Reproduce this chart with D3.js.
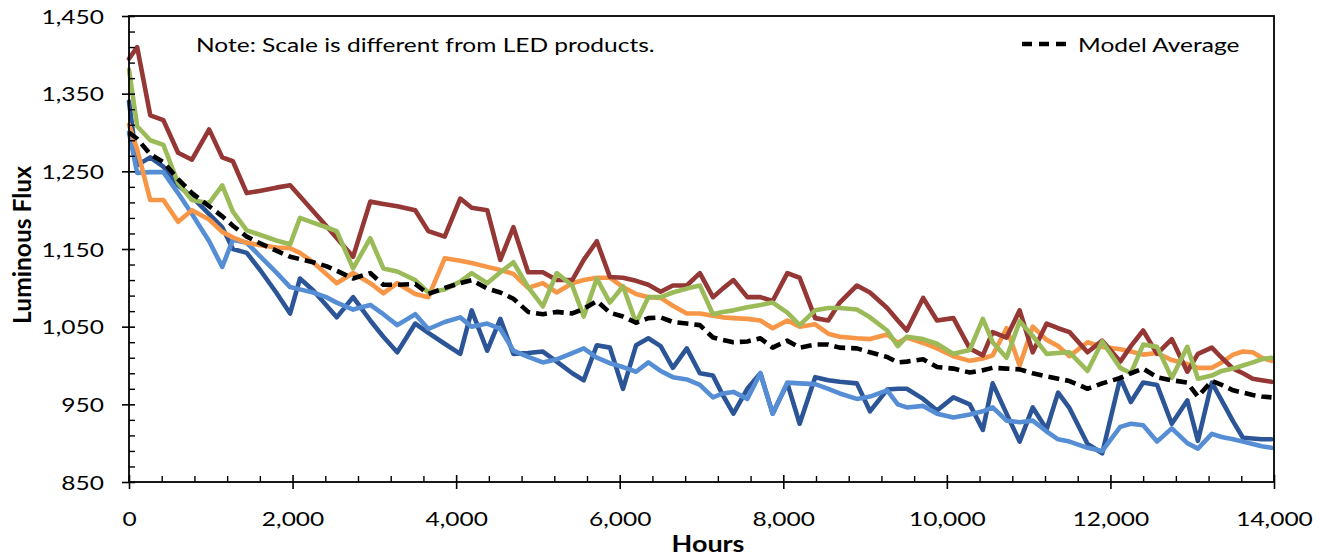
<!DOCTYPE html>
<html><head><meta charset="utf-8">
<script src="https://cdn.jsdelivr.net/npm/d3@7"></script>
<style>
body{margin:0;background:#fff}
svg{display:block;background:#fff}
</style>
</head><body>
<svg id="chart" width="1325" height="558"></svg>
<script>
// ---------- data ----------
const hours = [0,100,260,420,600,770,980,1140,1270,1440,1610,1800,1970,2090,2250,2410,2540,2740,2950,3110,3280,3500,3660,3860,4050,4190,4380,4540,4700,4880,5060,5230,5420,5560,5720,5880,6040,6200,6350,6500,6650,6820,6980,7140,7260,7390,7560,7720,7870,8050,8200,8390,8550,8690,8900,9060,9270,9400,9510,9710,9880,10080,10280,10440,10560,10730,10890,11050,11220,11360,11500,11720,11900,12120,12250,12400,12570,12750,12940,13070,13240,13360,13500,13620,13740,13850,13970];

const darkRed = [1395,1410,1322,1316,1274,1265,1304,1268,1263,1222,
 1225,1229,1232,1218,1199,1180,1164,1140,1211,1208,
 1205,1200,1173,1166,1215,1203,1200,1136,1178,1120,
 1120,1110,1110,1136,1160,1114,1113,1109,1104,1095,
 1103,1103,1119,1088,1099,1110,1088,1088,1083,1119,
 1113,1061,1058,1081,1103,1094,1074,1058,1045,1087,
 1058,1061,1022,1013,1043,1036,1071,1017,1054,1048,
 1043,1017,1032,1005,1025,1045,1015,1034,992,1015,
 1023,1010,996,990,983,981,979];

const green = [1381,1308,1290,1284,1235,1213,1209,1232,1198,1174,
 1168,1161,1156,1190,1184,1178,1173,1125,1164,1125,
 1121,1110,1094,1098,1108,1119,1106,1120,1133,1101,
 1076,1119,1103,1063,1112,1081,1102,1055,1088,1088,
 1094,1099,1103,1066,1069,1071,1075,1078,1081,1068,
 1052,1071,1074,1074,1072,1062,1045,1025,1037,1034,
 1028,1015,1020,1060,1030,1010,1057,1038,1015,1016,
 1017,993,1031,997,990,1027,1024,984,1024,983,
 987,993,996,1000,1004,1008,1010];

const orange = [1310,1278,1213,1213,1185,1200,1188,1172,1165,1158,
 1155,1152,1151,1145,1133,1118,1106,1119,1106,1093,
 1106,1092,1088,1138,1135,1132,1127,1123,1118,1100,
 1106,1094,1106,1110,1113,1113,1101,1092,1088,1087,
 1077,1067,1067,1064,1062,1061,1060,1058,1048,1058,
 1050,1053,1041,1037,1035,1034,1040,1029,1036,1029,
 1022,1012,1006,1009,1013,1048,1000,1050,1033,1025,
 1012,1030,1024,1021,1018,1014,1016,1007,1002,997,
 997,1004,1014,1018,1017,1010,1006];

const darkBlue = [1340,1258,1268,1256,1232,1217,1195,1178,1150,1145,
 1122,1094,1067,1112,1097,1078,1062,1088,1058,1037,
 1017,1054,1042,1028,1015,1071,1019,1060,1015,1016,
 1018,1005,990,981,1026,1023,970,1026,1035,1025,
 997,1022,990,987,962,938,970,990,938,977,
 925,985,981,979,977,941,969,970,970,957,
 942,959,950,917,977,938,902,946,918,965,
 945,899,887,984,953,978,975,925,955,903,
 978,955,928,907,906,905,905];

const lightBlue = [1300,1248,1249,1249,1222,1195,1160,1127,1162,1158,
 1140,1120,1101,1098,1094,1088,1081,1072,1078,1066,
 1052,1066,1047,1056,1062,1050,1054,1047,1019,1011,
 1004,1008,1016,1022,1010,1003,998,992,1004,993,
 985,982,975,959,964,966,957,990,938,978,
 977,976,970,964,957,960,968,950,946,948,
 938,933,937,941,946,929,927,929,915,905,
 902,894,890,921,925,923,902,919,900,893,
 912,908,905,902,899,896,894];

const modelAverage = [1300,1292,1272,1262,1240,1222,1205,1192,1180,1166,
 1157,1148,1140,1137,1133,1128,1122,1112,1119,1104,
 1104,1105,1092,1100,1106,1110,1099,1094,1086,1069,
 1066,1069,1067,1073,1083,1068,1063,1055,1061,1062,
 1056,1054,1052,1036,1033,1030,1031,1035,1023,1032,
 1023,1027,1027,1023,1022,1017,1011,1004,1005,1008,
 998,996,991,994,997,996,995,990,986,983,
 980,970,977,984,990,996,985,981,978,960,
 980,975,968,965,962,960,959];

const yTickValues = [850,950,1050,1150,1250,1350,1450];
const xTickValues = [0,2000,4000,6000,8000,10000,12000,14000];
const noteText = "Note: Scale is different from LED products.";
const legendLabel = "Model Average";
const xTitle = "Hours";
const yTitle = "Luminous Flux";

// ---------- layout ----------
const L = 129, R = 1274, T = 16, B = 482;
const FONT = 'Lato, "Open Sans", sans-serif';
const svg = d3.select('#chart');
svg.append('rect').attr('width',1325).attr('height',558).attr('fill','#fff');

const x = d3.scaleLinear().domain([0,14000]).range([L,R]);
const y = d3.scaleLinear().domain([850,1450]).range([B,T]);

// measure helper for horizontal stretch (reference is stretched horizontally)
function measure(txt, size, weight){
  const t = svg.append('text').attr('font-family',FONT).attr('font-size',size)
    .attr('font-weight',weight||'normal').text(txt);
  const w = t.node().getComputedTextLength();
  t.remove();
  return w;
}
const SIZE = 19, BSIZE = 22;
const sx = 459 / measure(noteText, SIZE);

// ---------- series ----------
const seriesList = [
  {name:'darkBlue', values:darkBlue, color:'#2C5597'},
  {name:'lightBlue', values:lightBlue, color:'#558ED5'},
  {name:'orange', values:orange, color:'#F79646'},
  {name:'darkRed', values:darkRed, color:'#953735'},
  {name:'green', values:green, color:'#9BBB59'}
];
const line = d3.line().x((d,i)=>x(hours[i])).y(d=>y(d));
svg.append('g').selectAll('path').data(seriesList).join('path')
  .attr('d', d=>line(d.values))
  .attr('fill','none').attr('stroke',d=>d.color)
  .attr('stroke-width',4.6).attr('stroke-linejoin','round').attr('stroke-linecap','round');

svg.append('path').attr('d', line(modelAverage))
  .attr('fill','none').attr('stroke','#000').attr('stroke-width',4.6)
  .attr('stroke-dasharray','11,6').attr('stroke-linejoin','round');

// ---------- frame & axes ----------
svg.append('rect').attr('x',L).attr('y',T).attr('width',R-L).attr('height',B-T)
  .attr('fill','none').attr('stroke','#000').attr('stroke-width',1.8);

const yMinor = d3.range(850,1451,20).filter(v => (v-850)%100 !== 0);
const xMinor = d3.range(0,14001,400).filter(v => v%2000 !== 0);

const yAxis = svg.append('g').attr('transform',`translate(${L},0)`)
  .call(d3.axisLeft(y).tickValues(yTickValues).tickSize(6).tickFormat(d3.format(',')));
yAxis.select('.domain').remove();
yAxis.selectAll('.tick line').attr('x1',6).attr('x2',-7).attr('stroke','#000').attr('stroke-width',1.6);
yAxis.selectAll('.tick text').attr('x',0).attr('dy',0)
  .attr('font-family',FONT).attr('font-size',SIZE).attr('fill','#000')
  .attr('text-anchor','end')
  .attr('transform',`translate(${104-L},7) scale(${sx},1)`);

svg.append('g').attr('transform',`translate(${L},0)`)
  .call(d3.axisRight(y).tickValues(yMinor).tickSize(6).tickFormat(''))
  .call(g=>g.select('.domain').remove())
  .call(g=>g.selectAll('.tick line').attr('stroke','#000').attr('stroke-width',1.4));

const xAxis = svg.append('g').attr('transform',`translate(0,${B})`)
  .call(d3.axisBottom(x).tickValues(xTickValues).tickSize(6).tickFormat(d3.format(',')));
xAxis.select('.domain').remove();
xAxis.selectAll('.tick line').attr('y1',-7).attr('y2',7).attr('stroke','#000').attr('stroke-width',1.6);
xAxis.selectAll('.tick text').attr('y',0).attr('dy',0)
  .attr('font-family',FONT).attr('font-size',SIZE).attr('fill','#000')
  .attr('text-anchor','middle')
  .attr('transform',`translate(0,${526-B}) scale(${sx},1)`);

svg.append('g').attr('transform',`translate(0,${B})`)
  .call(d3.axisTop(x).tickValues(xMinor).tickSize(6).tickFormat(''))
  .call(g=>g.select('.domain').remove())
  .call(g=>g.selectAll('.tick line').attr('stroke','#000').attr('stroke-width',1.4));

// ---------- titles ----------
const hw = measure(xTitle, BSIZE, 'bold');
svg.append('text').text(xTitle)
  .attr('font-family',FONT).attr('font-size',BSIZE).attr('font-weight','bold')
  .attr('text-anchor','middle')
  .attr('transform',`translate(708,552) scale(${73/hw},1)`);

const yw = measure(yTitle, BSIZE, 'bold');
svg.append('text').text(yTitle)
  .attr('font-family',FONT).attr('font-size',BSIZE).attr('font-weight','bold')
  .attr('text-anchor','middle').attr('dy','0.35em')
  .attr('transform',`translate(22,245) rotate(-90) scale(${158/yw},1.15)`);

// ---------- note & legend ----------
svg.append('text').text(noteText)
  .attr('font-family',FONT).attr('font-size',SIZE)
  .attr('transform',`translate(196,52) scale(${sx},1)`);

svg.append('line').attr('x1',1022).attr('x2',1066).attr('y1',44).attr('y2',44)
  .attr('stroke','#000').attr('stroke-width',4.5).attr('stroke-dasharray','10,7');
svg.append('text').text(legendLabel)
  .attr('font-family',FONT).attr('font-size',SIZE)
  .attr('transform',`translate(1078,52) scale(${sx},1)`);
</script>
</body></html>
